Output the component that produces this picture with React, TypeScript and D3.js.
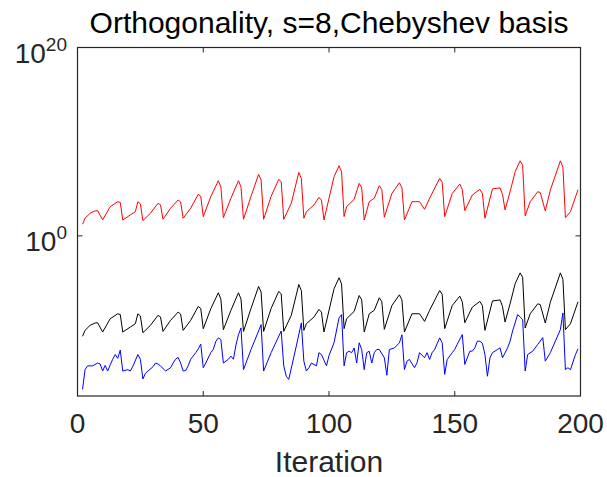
import React from 'react';
import * as d3 from 'd3';

// [iteration, log10(value)] pairs
const redSeries: [number, number][] = [
  [2, 1.24], [3, 1.87], [5, 2.4], [7, 2.65], [8, 2.68], [10, 1.69],
  [13, 3.1], [16, 3.63], [17, 3.55], [18, 1.69],
  [21, 2.22], [23, 2.57], [24, 3.63], [25, 3.4], [26, 1.62],
  [29, 2.4], [32, 3.46], [33, 3.3], [34, 1.76],
  [37, 2.93], [40, 3.81], [41, 3.6], [42, 1.87],
  [45, 2.93], [48, 4.41], [49, 4.2], [50, 2.04],
  [53, 4.16], [56, 5.86], [57, 5.2], [58, 1.94],
  [61, 3.99], [64, 5.86], [65, 5.2], [66, 1.76],
  [69, 4.2], [72, 6.53], [73, 5.95], [74, 1.76],
  [77, 4.2], [80, 6.0], [81, 5.75], [82, 1.76],
  [85, 3.46], [88, 6.74], [89, 6.1], [90, 1.87],
  [91, 2.57], [94, 3.28], [96, 4.09], [97, 3.8], [98, 1.69],
  [102, 6.28], [104, 7.45], [105, 6.8], [106, 2.05],
  [107, 3.1], [110, 3.88], [112, 5.57], [113, 5.1], [114, 1.69],
  [116, 3.63], [118, 4.0], [120, 5.33], [121, 4.9], [122, 1.98],
  [125, 4.5], [128, 5.64], [129, 5.1], [130, 1.69],
  [133, 3.63], [136, 3.63], [138, 2.82],
  [140, 4.0], [144, 6.1], [145, 5.7], [146, 2.05],
  [149, 4.5], [152, 5.5], [153, 4.9], [154, 2.68],
  [157, 4.34], [160, 4.94], [161, 4.5], [162, 1.87],
  [165, 4.99], [168, 5.1], [169, 4.4], [170, 2.75],
  [172, 4.69], [174, 6.81], [176, 7.97], [177, 7.5], [178, 2.12],
  [180, 3.63], [183, 4.69], [184, 4.6], [186, 2.65],
  [188, 4.85], [192, 7.97], [193, 7.3], [194, 1.94],
  [196, 2.57], [199, 4.9],
];

const blackSeries: [number, number][] = [
  [2, -10.66], [3, -10.03], [5, -9.5], [7, -9.25], [8, -9.22], [10, -10.21],
  [13, -8.8], [16, -8.27], [17, -8.35], [18, -10.21],
  [21, -9.68], [23, -9.33], [24, -8.27], [25, -8.5], [26, -10.28],
  [29, -9.5], [32, -8.44], [33, -8.6], [34, -10.14],
  [37, -8.97], [40, -8.09], [41, -8.3], [42, -10.03],
  [45, -8.97], [48, -7.49], [49, -7.7], [50, -9.86],
  [53, -7.74], [56, -6.04], [57, -6.7], [58, -9.96],
  [61, -7.91], [64, -6.04], [65, -6.7], [66, -10.14],
  [69, -7.7], [72, -5.37], [73, -5.95], [74, -10.14],
  [77, -7.7], [80, -5.9], [81, -6.15], [82, -10.14],
  [85, -8.44], [88, -5.16], [89, -5.8], [90, -10.03],
  [91, -9.33], [94, -8.62], [96, -7.81], [97, -8.1], [98, -10.21],
  [102, -5.62], [104, -4.45], [105, -5.1], [106, -9.85],
  [107, -8.8], [110, -8.02], [112, -6.33], [113, -6.8], [114, -10.21],
  [116, -8.27], [118, -7.9], [120, -6.57], [121, -7.0], [122, -9.92],
  [125, -7.4], [128, -6.26], [129, -6.8], [130, -10.21],
  [133, -8.27], [136, -8.27], [138, -9.08],
  [140, -7.9], [144, -5.8], [145, -6.2], [146, -9.85],
  [149, -7.4], [152, -6.4], [153, -7.0], [154, -9.22],
  [157, -7.56], [160, -6.96], [161, -7.4], [162, -10.03],
  [165, -6.91], [168, -6.8], [169, -7.5], [170, -9.15],
  [172, -7.21], [174, -5.09], [176, -3.93], [177, -4.4], [178, -9.78],
  [180, -8.27], [183, -7.21], [184, -7.3], [186, -9.25],
  [188, -7.05], [192, -3.93], [193, -4.6], [194, -9.96],
  [196, -9.33], [199, -7.0],
];

const blueSeries: [number, number][] = [
  [2, -16.3], [3, -14.2], [4, -13.8], [6, -13.8], [8, -13.5], [9, -13.6], [10, -14.35],
  [11, -13.75], [12, -14.35], [13, -13.7], [14, -13.1], [15, -12.6], [16, -13.0], [17, -12.13],
  [18, -14.35], [20, -14.2], [21, -14.35], [22, -13.85], [24, -12.6], [25, -13.1], [26, -15.2],
  [27, -14.6], [28, -14.35], [30, -13.9], [31, -13.5], [32, -13.6], [33, -13.8], [35, -14.35],
  [37, -14.0], [38, -13.5], [39, -13.1], [40, -12.9], [41, -13.5], [42, -14.35], [43, -14.3],
  [44, -13.8], [45, -13.1], [47, -12.4], [48, -12.0], [49, -11.5], [50, -14.0], [51, -13.5],
  [53, -12.4], [54, -12.05], [55, -11.2], [56, -10.83], [57, -11.0], [58, -13.5], [60, -13.1],
  [61, -12.77], [62, -13.1], [63, -11.6], [64, -10.5], [65, -9.77], [66, -14.2], [69, -12.06],
  [72, -10.1], [73, -9.42], [74, -14.35], [77, -12.4], [81, -10.1], [82, -13.8], [83, -14.9],
  [84, -15.24], [87, -11.7], [89, -9.24], [90, -13.3], [91, -14.35], [92, -14.0], [93, -13.5],
  [95, -13.8], [96, -12.4], [97, -12.6], [99, -13.8], [100, -12.7], [102, -11.35], [104, -8.71],
  [105, -8.36], [106, -13.8], [107, -12.4], [108, -12.25], [109, -12.4], [110, -11.9], [111, -13.5],
  [112, -11.35], [113, -12.06], [114, -14.2], [115, -12.4], [116, -12.25], [117, -13.5], [118, -12.4],
  [119, -12.06], [120, -12.06], [122, -12.94], [123, -14.8], [124, -12.06], [126, -11.9], [128, -11.35],
  [129, -10.5], [130, -14.2], [131, -13.3], [132, -13.12], [134, -14.0], [135, -13.47], [136, -12.4],
  [138, -12.94], [139, -12.4], [140, -13.12], [141, -12.4], [142, -12.06], [144, -10.83], [145, -11.35],
  [146, -14.7], [147, -13.12], [149, -12.4], [150, -12.05], [151, -11.5], [153, -10.48], [154, -13.65],
  [156, -12.24], [157, -12.24], [158, -11.89], [159, -11.18], [160, -11.18], [161, -11.4], [162, -12.6],
  [163, -14.9], [164, -12.94], [165, -12.4], [167, -12.06], [168, -11.89], [169, -12.94], [171, -11.89],
  [172, -11.18], [173, -10.1], [175, -8.36], [176, -8.6], [177, -8.89], [178, -14.35], [179, -12.6],
  [181, -12.24], [183, -11.53], [185, -10.8], [186, -13.3], [188, -12.4], [190, -11.18], [192, -9.95],
  [193, -8.18], [194, -14.2], [195, -14.0], [196, -14.2], [198, -12.6], [199, -12.0],
];

const xTicks = [0, 50, 100, 150, 200];
const yTickExponents = [0, 20];
const titleText = 'Orthogonality, s=8,Chebyshev basis';
const xLabelText = 'Iteration';

const FONT = '"Liberation Sans", Arial, Helvetica, sans-serif';
const AXIS = '#262626';

export default function App() {
  const W = 607, H = 477;
  const left = 77.5, right = 580.5, top = 47.5, bottom = 396;
  const x = d3.scaleLinear().domain([0, 200]).range([left, right]);
  const y = d3.scaleLog().domain([1e-17, 1e20]).range([bottom, top]);
  const line = d3
    .line<[number, number]>()
    .x((d) => x(d[0]))
    .y((d) => y(Math.pow(10, d[1])));

  const series = [
    { data: redSeries, color: '#ff0000' },
    { data: blackSeries, color: '#000000' },
    { data: blueSeries, color: '#0000ff' },
  ];
  const tick = 5;

  return (
    <svg
      width={W}
      height={H}
      style={{ position: 'absolute', left: 0, top: 0, background: '#fff' }}
    >
      <rect x={0} y={0} width={W} height={H} fill="#fff" />
      {series.map((s, i) => (
        <path key={i} d={line(s.data) || ''} fill="none" stroke={s.color} strokeWidth={1} />
      ))}
      <rect
        x={left}
        y={top}
        width={right - left}
        height={bottom - top}
        fill="none"
        stroke={AXIS}
        strokeWidth={1.2}
      />
      {xTicks.map((t) => (
        <g key={'x' + t}>
          <line x1={x(t)} x2={x(t)} y1={bottom} y2={bottom - tick} stroke={AXIS} />
          <line x1={x(t)} x2={x(t)} y1={top} y2={top + tick} stroke={AXIS} />
          <text
            x={x(t)}
            y={433}
            textAnchor="middle"
            fontFamily={FONT}
            fontSize={28}
            fill={AXIS}
          >
            {t}
          </text>
        </g>
      ))}
      {yTickExponents.map((e) => {
        const yy = y(Math.pow(10, e));
        return (
          <g key={'y' + e}>
            <line x1={left} x2={left + tick} y1={yy} y2={yy} stroke={AXIS} />
            <line x1={right} x2={right - tick} y1={yy} y2={yy} stroke={AXIS} />
            <text
              x={67}
              y={yy + 15}
              textAnchor="end"
              fontFamily={FONT}
              fontSize={28}
              fill={AXIS}
            >
              <tspan>10</tspan>
              <tspan dy={-12} fontSize={19}>
                {e}
              </tspan>
            </text>
          </g>
        );
      })}
      <text
        x={(left + right) / 2}
        y={33}
        textAnchor="middle"
        fontFamily={FONT}
        fontSize={30}
        fill="#000"
      >
        {titleText}
      </text>
      <text
        x={(left + right) / 2}
        y={472}
        textAnchor="middle"
        fontFamily={FONT}
        fontSize={30}
        fill={AXIS}
      >
        {xLabelText}
      </text>
    </svg>
  );
}
